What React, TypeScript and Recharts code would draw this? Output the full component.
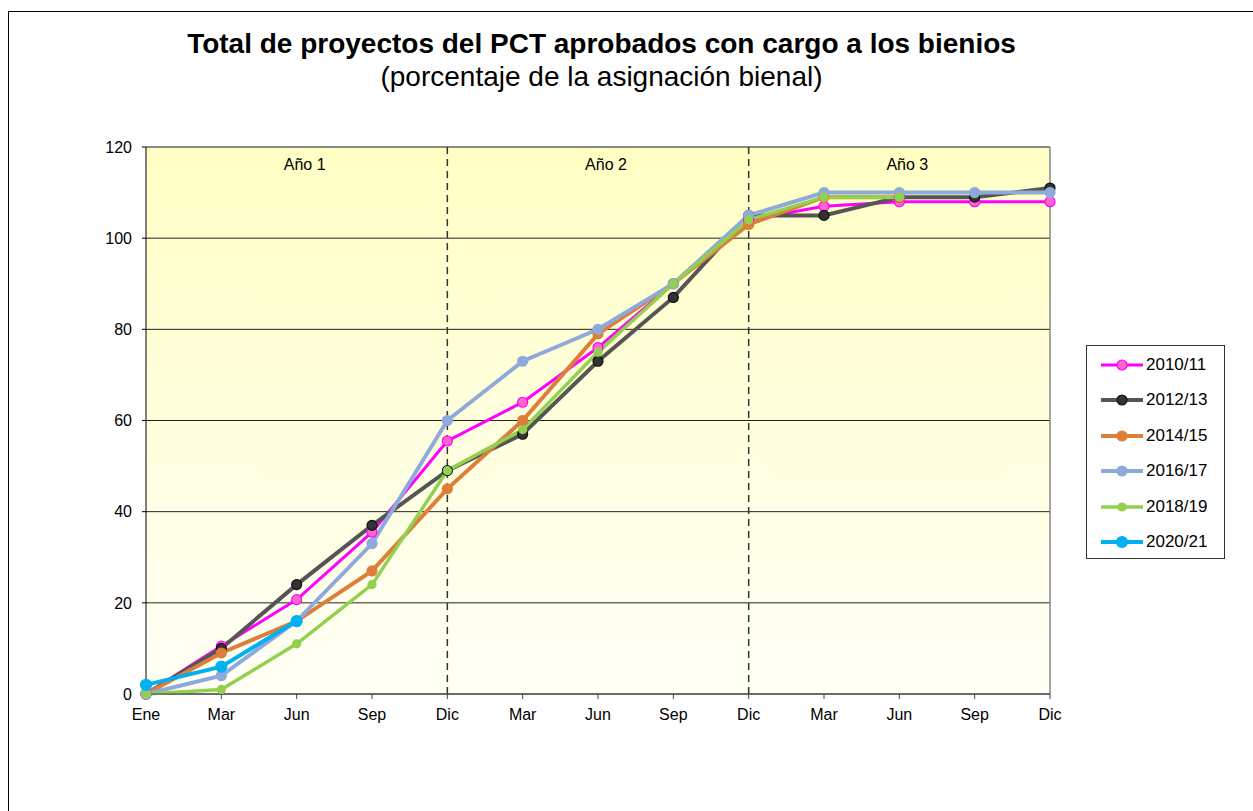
import React from 'react';
import { LineChart, Line, XAxis, YAxis, CartesianGrid, ReferenceLine, ReferenceArea } from 'recharts';

const months = ['Ene', 'Mar', 'Jun', 'Sep', 'Dic', 'Mar', 'Jun', 'Sep', 'Dic', 'Mar', 'Jun', 'Sep', 'Dic'];
const yTicks = [0, 20, 40, 60, 80, 100, 120];
const years = ['Año 1', 'Año 2', 'Año 3'];

const s2010 = [0, 10.5, 20.7, 35.5, 55.5, 64, 76, 90, 104, 107, 108, 108, 108];
const s2012 = [0, 10, 24, 37, 49, 57, 73, 87, 105, 105, 109, 109, 111];
const s2014 = [0, 9, 16, 27, 45, 60, 79, 90, 103, 109, 109];
const s2016 = [0, 4, 16, 33, 60, 73, 80, 90, 105, 110, 110, 110, 110];
const s2018 = [0, 1, 11, 24, 49, 58, 75, 90, 104, 109, 109];
const s2020 = [2, 6, 16];

const series = [
  { key: 'a', name: '2010/11', values: s2010, color: '#ff00ff', dot: '#ff66cc', width: 3, r: 5 },
  { key: 'b', name: '2012/13', values: s2012, color: '#555555', dot: '#333333', width: 4, r: 5 },
  { key: 'c', name: '2014/15', values: s2014, color: '#dd7e3a', dot: '#dd7e3a', width: 4, r: 5 },
  { key: 'd', name: '2016/17', values: s2016, color: '#8eaadb', dot: '#8eaadb', width: 4, r: 5 },
  { key: 'e', name: '2018/19', values: s2018, color: '#92d050', dot: '#92d050', width: 3.5, r: 4 },
  { key: 'f', name: '2020/21', values: s2020, color: '#00b0f0', dot: '#00b0f0', width: 4, r: 5.5 },
];

const data = months.map((m, i) => {
  const row: any = { x: i };
  series.forEach((s) => {
    if (i < s.values.length) row[s.key] = s.values[i];
  });
  return row;
});

const font = 'Liberation Sans, Arial, sans-serif';

const LegendBox = () => (
  <div
    style={{
      position: 'absolute',
      left: 1086,
      top: 345,
      width: 139,
      height: 214,
      border: '1px solid #333',
      background: '#fff',
      boxSizing: 'border-box',
      paddingTop: 1,
      fontFamily: font,
    }}
  >
    {series.map((s) => (
      <div key={s.key} style={{ display: 'flex', alignItems: 'center', height: 35.5 }}>
        <svg width={46} height={14} style={{ marginLeft: 12 }}>
          <line x1={2} y1={7} x2={44} y2={7} stroke={s.color} strokeWidth={s.width} />
          <circle cx={23} cy={7} r={s.r} fill={s.dot} stroke={s.key === 'b' ? '#111' : s.color} strokeWidth={1.2} />
        </svg>
        <span style={{ fontSize: 17, color: '#000', marginLeft: 1 }}>{s.name}</span>
      </div>
    ))}
  </div>
);

const App = () => {
  return (
    <div style={{ position: 'absolute', left: 0, top: 0, width: 1253, height: 811, background: '#fff', fontFamily: font, overflow: 'hidden' }}>
      <div style={{ position: 'absolute', left: 8, top: 11, width: 1260, height: 820, borderLeft: '1px solid #000', borderTop: '1px solid #000' }} />
      <div style={{ position: 'absolute', left: 0, top: 0 }}>
        <LineChart width={1253} height={811} data={data} margin={{ top: 147, right: 203, bottom: 87, left: 86 }}>
          <defs>
            <linearGradient id="plotBg" x1="0" y1="0" x2="0" y2="1">
              <stop offset="0%" stopColor="#ffffc4" />
              <stop offset="100%" stopColor="#fffff6" />
            </linearGradient>
          </defs>
          <CartesianGrid vertical={false} stroke="#222" strokeWidth={1} fill="url(#plotBg)" fillOpacity={1} />
          <XAxis
            dataKey="x"
            type="number"
            domain={[0, 12]}
            ticks={months.map((_, i) => i)}
            tickFormatter={(v: number) => months[v]}
            stroke="#444"
            tickSize={5}
            tickMargin={10}
            height={30}
            tick={{ fill: '#000', fontSize: 16, fontFamily: font }}
            allowDecimals={false}
          />
          <YAxis
            domain={[0, 120]}
            ticks={yTicks}
            width={60}
            stroke="#000"
            tickSize={4}
            tickMargin={10}
            tick={{ fill: '#000', fontSize: 16, fontFamily: font }}
          />
          <ReferenceLine x={12} stroke="#888" strokeWidth={1.5} />
          <ReferenceLine y={120} stroke="#888" strokeWidth={1.5} />
          <ReferenceLine x={4} stroke="#333" strokeWidth={1.5} strokeDasharray="7 5" />
          <ReferenceLine x={8} stroke="#333" strokeWidth={1.5} strokeDasharray="7 5" />
          {years.map((y, i) => (
            <ReferenceArea
              key={y}
              x1={i * 4}
              x2={i * 4 + 4}
              y1={110}
              y2={120}
              fillOpacity={0}
              strokeOpacity={0}
              label={{ value: y, position: 'insideTop', offset: 12, dx: 8, fill: '#000', fontSize: 16, fontFamily: font } as any}
            />
          ))}
          {series.map((s) => (
            <Line
              key={s.key}
              dataKey={s.key}
              name={s.name}
              stroke={s.color}
              strokeWidth={s.width}
              dot={{ r: s.r, fill: s.dot, stroke: s.key === 'b' ? '#111' : s.color, strokeWidth: 1.2 }}
              activeDot={false}
              isAnimationActive={false}
            />
          ))}
        </LineChart>
      </div>
      <div style={{ position: 'absolute', top: 28, width: 1203, left: 0, textAlign: 'center', fontSize: 28, fontWeight: 'bold', color: '#000' }}>
        Total de proyectos del PCT aprobados con cargo a los bienios
      </div>
      <div style={{ position: 'absolute', top: 61, width: 1203, left: 0, textAlign: 'center', fontSize: 28, color: '#000' }}>
        (porcentaje de la asignación bienal)
      </div>
      <LegendBox />
    </div>
  );
};

export default App;
